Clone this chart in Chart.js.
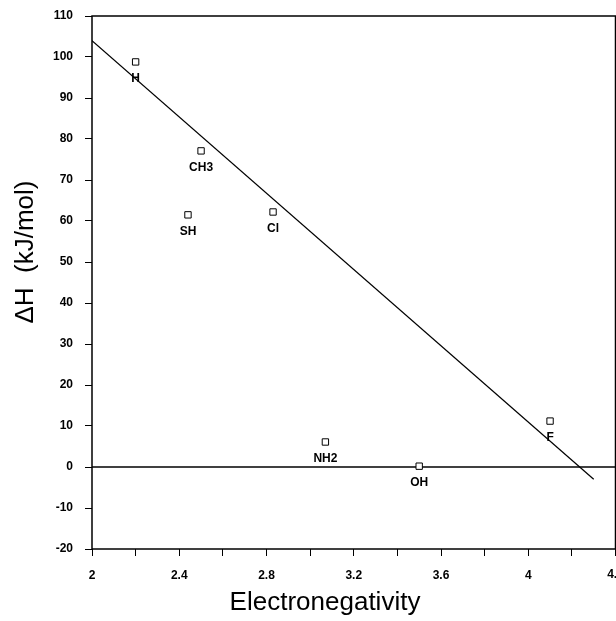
<!DOCTYPE html>
<html>
<head>
<meta charset="utf-8">
<script src="https://cdn.jsdelivr.net/npm/chart.js@4"></script>
<style>
  html, body { margin: 0; padding: 0; background: #fff; overflow: hidden; }
  #wrap { width: 616px; height: 621px; overflow: hidden; }
</style>
</head>
<body>
<div id="wrap"><canvas id="enChart" width="621" height="621"></canvas></div>
<script>
// substituents and their points
const groups = ["H", "CH3", "SH", "Cl", "NH2", "OH", "F"];
const electroneg = [2.2, 2.5, 2.44, 2.83, 3.07, 3.5, 4.1];
const deltaH = [98.8, 77.1, 61.5, 62.2, 6.1, 0.2, 11.2];

// fitted line and the zero line
const fitX = [2.0, 4.3];
const fitY = [104, -3];
const zeroX = [2.0, 4.4];
const zeroY = [0, 0];

const X_MAX = 4.4;
const tickFont = { family: "'Liberation Sans', Arial", size: 12, weight: "bold" };

// labels under each point + frame + axis titles
const annotate = {
  id: "annotate",
  afterDatasetsDraw(chart) {
    const ctx = chart.ctx;
    const meta = chart.getDatasetMeta(0);
    ctx.save();
    ctx.fillStyle = "#000";
    ctx.font = "bold 12px 'Liberation Sans', Arial";
    ctx.textAlign = "center";
    ctx.textBaseline = "middle";
    meta.data.forEach((pt, i) => {
      ctx.fillText(groups[i], pt.x, pt.y + 17);
    });

    // last x label sits on the page edge, gets cut like in the original
    const xs = chart.scales.x;
    ctx.fillText(String(X_MAX), xs.getPixelForValue(X_MAX), xs.top + 26);

    const a = chart.chartArea;
    ctx.strokeStyle = "#000";
    ctx.lineWidth = 1.5;
    ctx.strokeRect(a.left, a.top, a.right - a.left, a.bottom - a.top);

    ctx.font = "26px 'Liberation Sans', Arial";
    ctx.fillText("Electronegativity", 325, 603);
    ctx.translate(26, 252);
    ctx.rotate(-Math.PI / 2);
    ctx.fillText("\u0394H  (kJ/mol)", 0, 0);
    ctx.restore();
  }
};

const ctx = document.getElementById("enChart").getContext("2d");
new Chart(ctx, {
  type: "scatter",
  data: {
    datasets: [
      {
        label: "groups",
        data: electroneg.map((x, i) => ({ x: x, y: deltaH[i] })),
        pointStyle: "rect",
        pointRadius: 4.5,
        backgroundColor: "#fff",
        borderColor: "#000",
        borderWidth: 1,
        order: 0,
      },
      {
        label: "fit",
        type: "line",
        data: fitX.map((x, i) => ({ x: x, y: fitY[i] })),
        borderColor: "#000",
        borderWidth: 1.2,
        pointRadius: 0,
        fill: false,
        order: 1,
      },
      {
        label: "zero",
        type: "line",
        data: zeroX.map((x, i) => ({ x: x, y: zeroY[i] })),
        borderColor: "#000",
        borderWidth: 1.5,
        pointRadius: 0,
        fill: false,
        order: 2,
      },
    ],
  },
  options: {
    responsive: false,
    animation: false,
    layout: { padding: { top: 16, right: 0, left: 0, bottom: 0 } },
    plugins: { legend: { display: false }, tooltip: { enabled: false } },
    scales: {
      x: {
        type: "linear",
        min: 2,
        max: X_MAX,
        border: { display: false },
        grid: { drawOnChartArea: false, drawTicks: true, tickLength: 7, tickColor: "#000", lineWidth: 1 },
        ticks: {
          stepSize: 0.2,
          color: "#000",
          font: tickFont,
          padding: 12,
          maxRotation: 0,
          autoSkip: false,
          callback: (v, i) => {
            const r = Math.round(v * 10) / 10;
            if (r >= X_MAX || i % 2 !== 0) return "";
            return String(r);
          },
        },
        afterFit: (s) => { s.height = 72; s.paddingLeft = 0; s.paddingRight = 0; },
      },
      y: {
        min: -20,
        max: 110,
        border: { display: false },
        grid: { drawOnChartArea: false, drawTicks: true, tickLength: 7, tickColor: "#000", lineWidth: 1 },
        ticks: {
          stepSize: 10,
          color: "#000",
          font: tickFont,
          padding: 12,
        },
        afterFit: (s) => { s.width = 92; s.paddingTop = 0; s.paddingBottom = 0; },
      },
    },
  },
  plugins: [annotate],
});
</script>
</body>
</html>
